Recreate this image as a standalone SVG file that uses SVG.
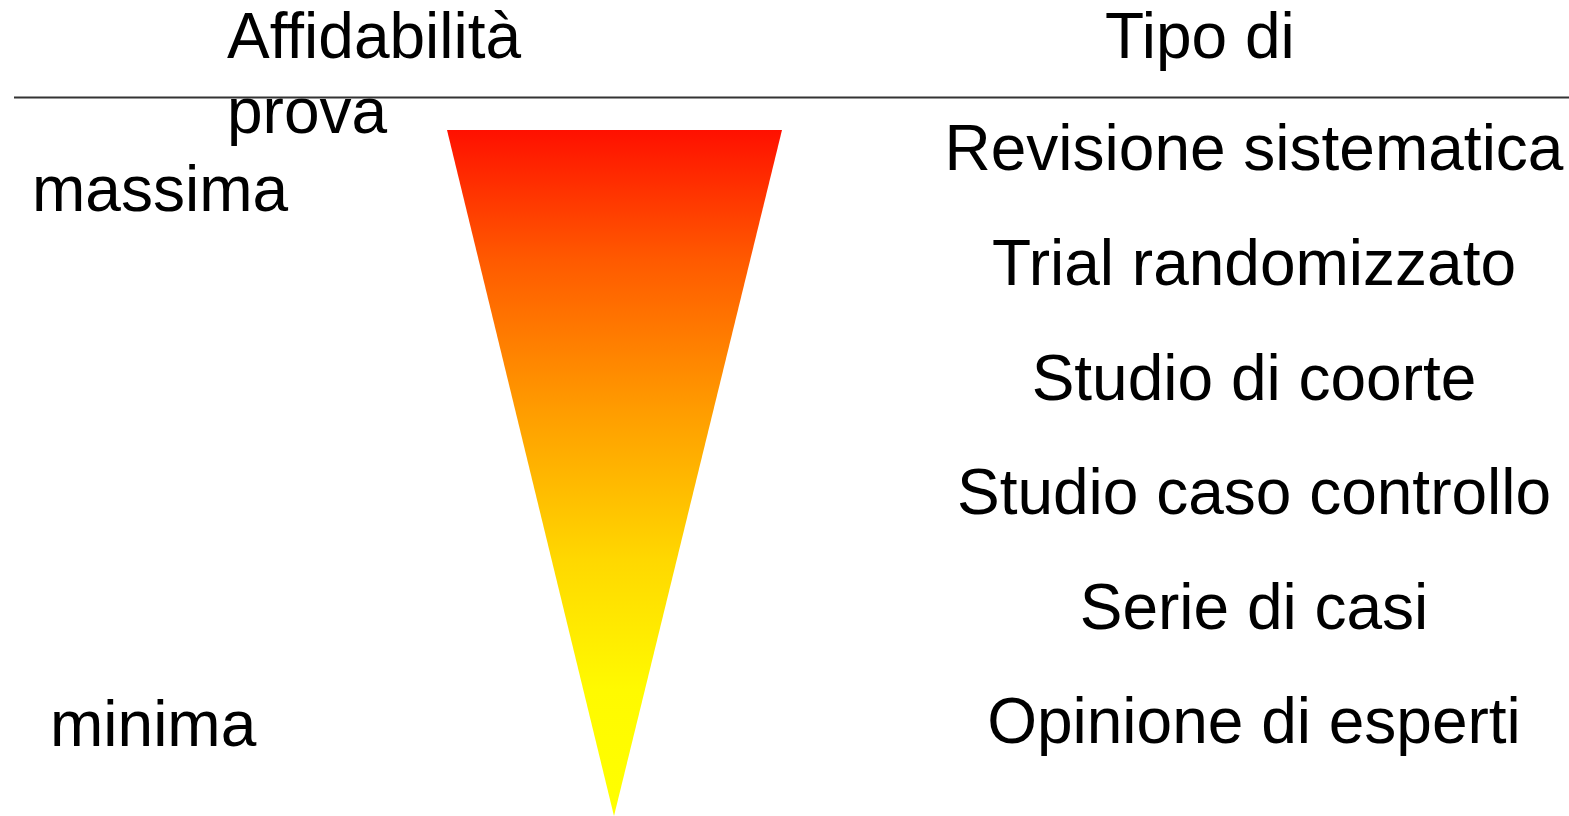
<svg xmlns="http://www.w3.org/2000/svg" width="1569" height="816" viewBox="0 0 1569 816">
  <style>
    text { font-family: "Liberation Sans", Arial, sans-serif; font-size: 64px; fill: #000; }
    .mid { text-anchor: middle; }
  </style>
  <defs>
    <!-- red at the top fading to yellow at the apex -->
    <linearGradient id="heat" x1="0" y1="0" x2="0" y2="1">
      <stop offset="0" stop-color="#ff1000"/>
      <stop offset="0.19" stop-color="#ff5a00"/>
      <stop offset="0.408" stop-color="#ff9c00"/>
      <stop offset="0.627" stop-color="#ffd800"/>
      <stop offset="0.816" stop-color="#fffa00"/>
      <stop offset="1" stop-color="#ffff00"/>
    </linearGradient>
  </defs>
  <rect width="1569" height="816" fill="#fff"/>

  <!-- column headings -->
  <g id="headings">
    <text x="227" y="58">Affidabilità</text>
    <text x="227" y="133">prova</text>
    <text x="1105" y="58">Tipo di</text>
  </g>

  <!-- heading rule -->
  <line x1="14" y1="97.5" x2="1569" y2="97.5" stroke="#333" stroke-width="2"/>

  <!-- reliability scale -->
  <g id="scale">
    <polygon points="447,130 782,130 614,816" fill="url(#heat)"/>
    <text x="32" y="211">massima</text>
    <text x="50" y="746">minima</text>
  </g>

  <!-- study types -->
  <g id="types">
    <text class="mid" x="1254" y="170">Revisione sistematica</text>
    <text class="mid" x="1254" y="285">Trial randomizzato</text>
    <text class="mid" x="1254" y="400">Studio di coorte</text>
    <text class="mid" x="1254" y="514">Studio caso controllo</text>
    <text class="mid" x="1254" y="629">Serie di casi</text>
    <text class="mid" x="1254" y="743">Opinione di esperti</text>
  </g>
</svg>
